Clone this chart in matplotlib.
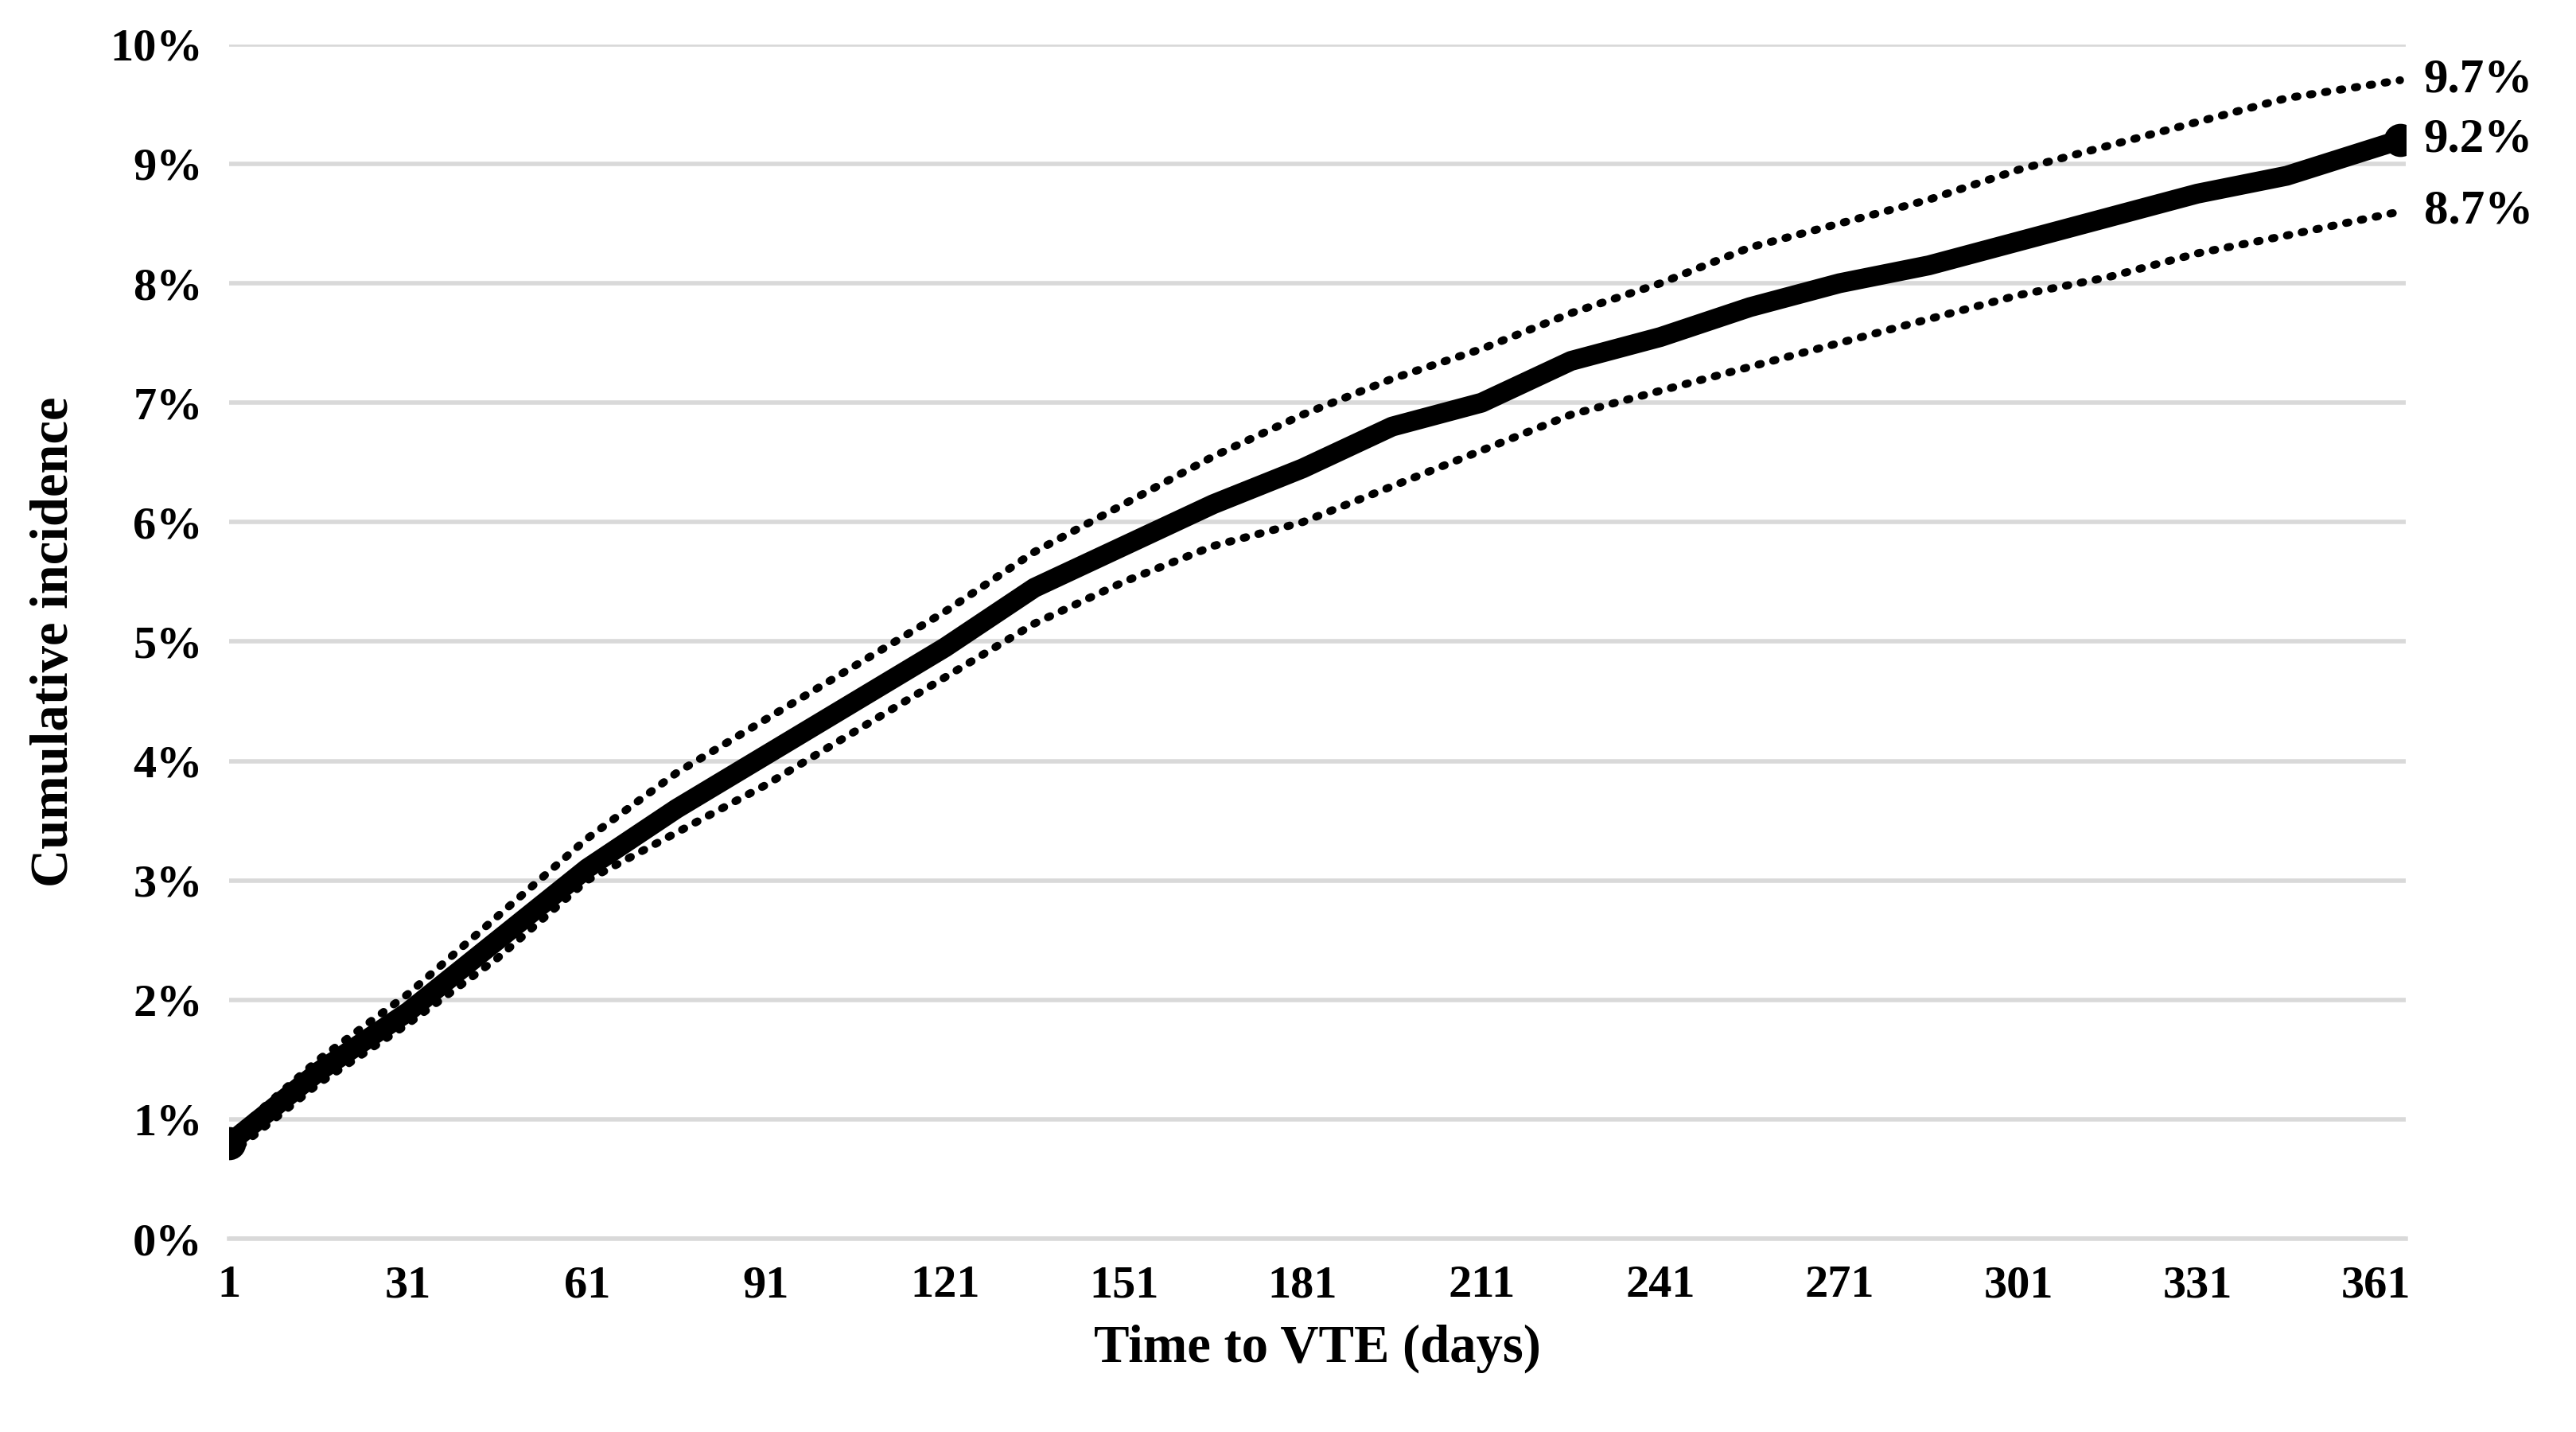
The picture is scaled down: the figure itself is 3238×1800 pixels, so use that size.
import matplotlib
matplotlib.use("Agg")
import matplotlib.pyplot as plt

days = [1, 16, 31, 46, 61, 76, 91, 106, 121, 136, 151, 166, 181, 196, 211, 226, 241, 256, 271, 286, 301, 316, 331, 346, 365]
cum_inc = [0.8, 1.4, 1.9, 2.5, 3.1, 3.6, 4.05, 4.5, 4.95, 5.45, 5.8, 6.15, 6.45, 6.8, 7.0, 7.35, 7.55, 7.8, 8.0, 8.15, 8.35, 8.55, 8.75, 8.9, 9.2]
upper = [0.85, 1.5, 2.05, 2.7, 3.35, 3.9, 4.35, 4.8, 5.25, 5.75, 6.15, 6.55, 6.9, 7.2, 7.45, 7.75, 8.0, 8.3, 8.5, 8.7, 8.95, 9.15, 9.35, 9.55, 9.7]
lower = [0.7, 1.3, 1.8, 2.35, 3.0, 3.4, 3.8, 4.25, 4.7, 5.15, 5.5, 5.8, 6.0, 6.3, 6.6, 6.9, 7.1, 7.3, 7.5, 7.7, 7.9, 8.05, 8.25, 8.4, 8.6]
end_labels = ["9.7%", "9.2%", "8.7%"]
xticks = list(range(1, 362, 30))

plt.rcParams["font.family"] = ["Liberation Serif", "DejaVu Serif"]
plt.rcParams["font.weight"] = "bold"

fig = plt.figure(figsize=(16.19, 9), dpi=200)
ax = fig.add_axes([0.089, 0.135, 0.845, 0.834])

ax.plot(days, upper, color="black", lw=3.6, linestyle=(0, (0.3, 1.6)), dash_capstyle="round")
ax.plot(days, lower, color="black", lw=3.6, linestyle=(0, (0.3, 1.6)), dash_capstyle="round")
ax.plot(days, cum_inc, color="black", lw=9, solid_capstyle="round", solid_joinstyle="round")
ax.plot([days[0], days[-1]], [cum_inc[0], cum_inc[-1]], "o", color="black", ms=14)

for v, lbl in zip([upper[-1], cum_inc[-1], lower[-1]], end_labels):
    ax.text(days[-1] + 4, v, lbl, fontsize=22, fontweight="bold", va="center", ha="left", clip_on=False)

ax.set_xlim(1, 366)
ax.set_ylim(0, 10)
ax.set_xticks(xticks)
ax.set_yticks(range(0, 11))
ax.set_yticklabels([f"{i}%" for i in range(0, 11)])
ax.tick_params(axis="both", length=0, labelsize=21, pad=12)
for lab in ax.get_xticklabels() + ax.get_yticklabels():
    lab.set_fontweight("bold")
ax.grid(axis="y", color="#d9d9d9", lw=2)
ax.set_axisbelow(True)
for s in ["top", "right", "left"]:
    ax.spines[s].set_visible(False)
ax.spines["bottom"].set_color("#d9d9d9")
ax.spines["bottom"].set_linewidth(2)
ax.set_xlabel("Time to VTE (days)", fontsize=24, fontweight="bold", labelpad=8)
ax.set_ylabel("Cumulative incidence", fontsize=24, fontweight="bold", labelpad=14)

fig.savefig("out.png", dpi=200)
